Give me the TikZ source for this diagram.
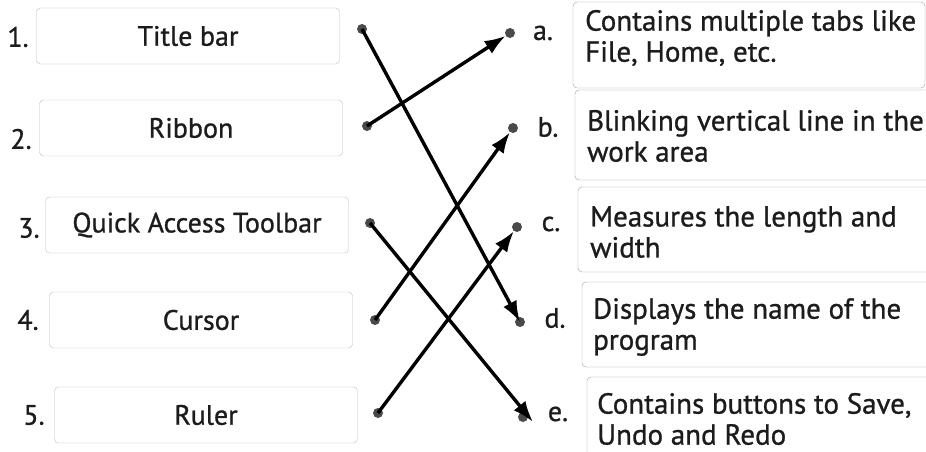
\documentclass[tikz,border=0pt]{standalone}
\usepackage{fontspec}
\setmainfont{PT Sans}[BoldFont={PT Sans}, BoldFeatures={FakeBold=0.9}]
\usetikzlibrary{arrows.meta}
\definecolor{inkc}{HTML}{1C1C1C}
\definecolor{dotc}{HTML}{4A4A4A}
\tikzset{
  leftbox/.style={draw=gray!50, rounded corners=4pt, minimum width=303pt,
    minimum height=56pt, text=inkc, font=\fontsize{28}{32}\selectfont\bfseries},
  rightbox/.style={draw=gray!75, rounded corners=4pt},
  righttext/.style={anchor=west, align=left, inner sep=0pt, text=inkc,
    font=\fontsize{29}{31}\selectfont\bfseries},
  numlabel/.style={text=inkc, font=\fontsize{28}{30}\selectfont\bfseries},
  dotnode/.style={circle, fill=dotc, minimum size=10pt, inner sep=0pt},
  matcharrow/.style={line width=3.4pt, -{Latex[length=21pt,width=15pt]}}
}
\begin{document}
\begin{tikzpicture}[x=1pt, y=-1pt]
\clip (0,0) rectangle (926,452);
\fill[white] (0,0) rectangle (926,452);
% left column
\node[leftbox] (b1) at (188,36) {Title bar};
\node[leftbox] (b2) at (191,128) {Ribbon};
\node[leftbox] (b3) at (197,225) {Quick Access Toolbar};
\node[leftbox] (b4) at (201,320) {Cursor};
\node[leftbox] (b5) at (206,415) {Ruler};
\node[numlabel] (n1) at (18,37) {1.};
\node[numlabel] (n2) at (21,139) {2.};
\node[numlabel] (n3) at (29,228) {3.};
\node[numlabel] (n4) at (28,320) {4.};
\node[numlabel] (n5) at (34,415) {5.};
% right column
\draw[rightbox] (573,2) rectangle ++(352,86);
\draw[rightbox] (575,90) rectangle ++(380,90);
\draw[rightbox] (578,187) rectangle ++(380,85);
\draw[rightbox] (582,282) rectangle ++(380,85);
\draw[rightbox] (587,377) rectangle ++(380,90);
\node[righttext] (ta) at (585,38) {Contains multiple tabs like\\File, Home, etc.};
\node[righttext] (tb) at (587,136) {Blinking vertical line in the\\work area};
\node[righttext] (tc) at (590,232) {Measures the length and\\width};
\node[righttext] (td) at (593,327) {Displays the name of the\\program};
\node[righttext] (te) at (597,419) {Contains buttons to Save,\\Undo and Redo};
\node[numlabel] (la) at (543,33) {a.};
\node[numlabel] (lb) at (548,127) {b.};
\node[numlabel] (lc) at (551,224) {c.};
\node[numlabel] (ld) at (555,318) {d.};
\node[numlabel] (le) at (558,414) {e.};
% dots
\node[dotnode] (l1) at (362,29) {};
\node[dotnode] (l2) at (367,126) {};
\node[dotnode] (l3) at (370,223) {};
\node[dotnode] (l4) at (375,320) {};
\node[dotnode] (l5) at (378,413) {};
\node[dotnode] (ra) at (510,33) {};
\node[dotnode] (rb) at (513,128) {};
\node[dotnode] (rc) at (517,227) {};
\node[dotnode] (rd) at (520,322) {};
\node[dotnode] (re) at (523,417) {};
% matches
\draw[matcharrow] (l1.center) -- (rd.center);
\draw[matcharrow] (l2.center) -- (ra);
\draw[matcharrow] (l3.center) -- ([shift={(10pt,-5pt)}]re.center);
\draw[matcharrow] (l4.center) -- (rb);
\draw[matcharrow] (l5.center) -- (rc);
\end{tikzpicture}
\end{document}
